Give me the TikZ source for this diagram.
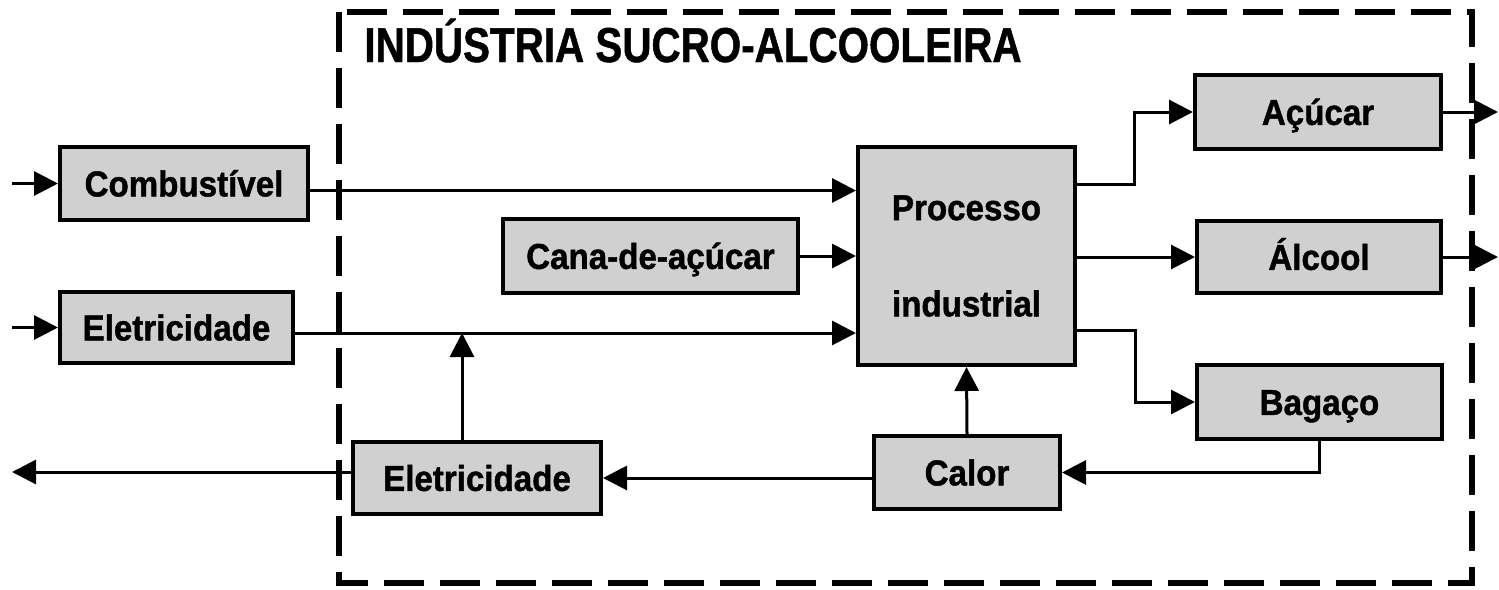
\documentclass[tikz,border=0pt]{standalone}
\usepackage{fontspec}
\setmainfont{Liberation Sans}
\newfontfamily\boxfont[FakeStretch=0.92,FakeBold=1.2]{Liberation Sans}
\newfontfamily\titlefont[FakeStretch=0.824,FakeBold=1.0]{Liberation Sans}
\usetikzlibrary{arrows.meta}
\definecolor{boxgray}{RGB}{208,208,208}
\begin{document}
\begin{tikzpicture}[x=0.5pt,y=-0.5pt,
  boxbase/.style={draw=black, line width=2pt, fill=boxgray, inner sep=0pt,
    font=\boxfont\bfseries\fontsize{18}{21.6}\selectfont},
  blk/.style={boxbase, text height=12.9pt, text depth=0pt},
  flow/.style={line width=1.5pt, -{Triangle[length=12pt,width=12pt]}},
  frame/.style={line width=2.8pt, dash pattern=on 20pt off 8pt}]
\useasboundingbox (0,0) rectangle (1499,589);
% frame and title
\draw[frame] (339,12) rectangle (1472,583);
\node[anchor=base west, inner sep=0pt, font=\titlefont\bfseries\fontsize{24.5}{29}\selectfont] (title) at (364,62) {INDÚSTRIA SUCRO-ALCOOLEIRA};
% boxes
\node[blk, minimum width=124pt, minimum height=36.5pt] (comb) at (184,183.5) {Combustível};
\node[blk, minimum width=116.5pt, minimum height=35.5pt] (eleL) at (176.5,327.5) {Eletricidade};
\node[blk, minimum width=147.5pt, minimum height=37pt] (cana) at (650.5,256) {Cana-de-açúcar};
\node[boxbase, align=center, minimum width=108.5pt, minimum height=109pt] (proc) at (966.5,256) {Processo\\[26.5pt]industrial};
\node[blk, minimum width=123pt, minimum height=37pt] (acu) at (1318,112) {Açúcar};
\node[blk, minimum width=122pt, minimum height=36pt] (alc) at (1319,257) {Álcool};
\node[blk, minimum width=122.5pt, minimum height=37pt] (bag) at (1319.5,402) {Bagaço};
\node[blk, minimum width=124pt, minimum height=36pt] (eleB) at (477,478) {Eletricidade};
\node[blk, minimum width=93pt, minimum height=36.5pt] (calor) at (967,472.5) {Calor};
% free ends and junctions
\coordinate (in1) at (12,183.5);
\coordinate (in2) at (12,327.5);
\coordinate (outA) at (1498,112);
\coordinate (outB) at (1498,257);
\coordinate (outE) at (12,472);
\coordinate (jE) at (462,333);
\coordinate (bA) at (1134,184);
\coordinate (bB) at (1135,330);
% connectors
\draw[flow] (in1) -- (comb.west);
\draw[flow] (in2) -- (eleL.west);
\draw[flow] ([yshift=-3.5pt]comb.east) -- ([yshift=-3.5pt]comb.east -| proc.west);
\draw[flow] (cana.east) -- (cana.east -| proc.west);
\draw[flow] (eleL.east |- jE) -- (jE -| proc.west);
\draw[flow] (eleB.north -| jE) -- (jE);
\draw[flow] (calor.north) -- (proc.south);
\draw[flow] (proc.east |- bA) -- (bA) |- (acu.west);
\draw[flow] (proc.east |- alc.west) -- (alc.west);
\draw[flow] (proc.east |- bB) -- (bB) |- (bag.west);
\draw[flow] (acu.east) -- (outA);
\draw[flow] (alc.east) -- (outB);
\draw[flow] (bag.south) |- (calor.east);
\draw[flow] (calor.west |- eleB.east) -- (eleB.east);
\draw[flow] (eleB.west |- outE) -- (outE);
\end{tikzpicture}
\end{document}
